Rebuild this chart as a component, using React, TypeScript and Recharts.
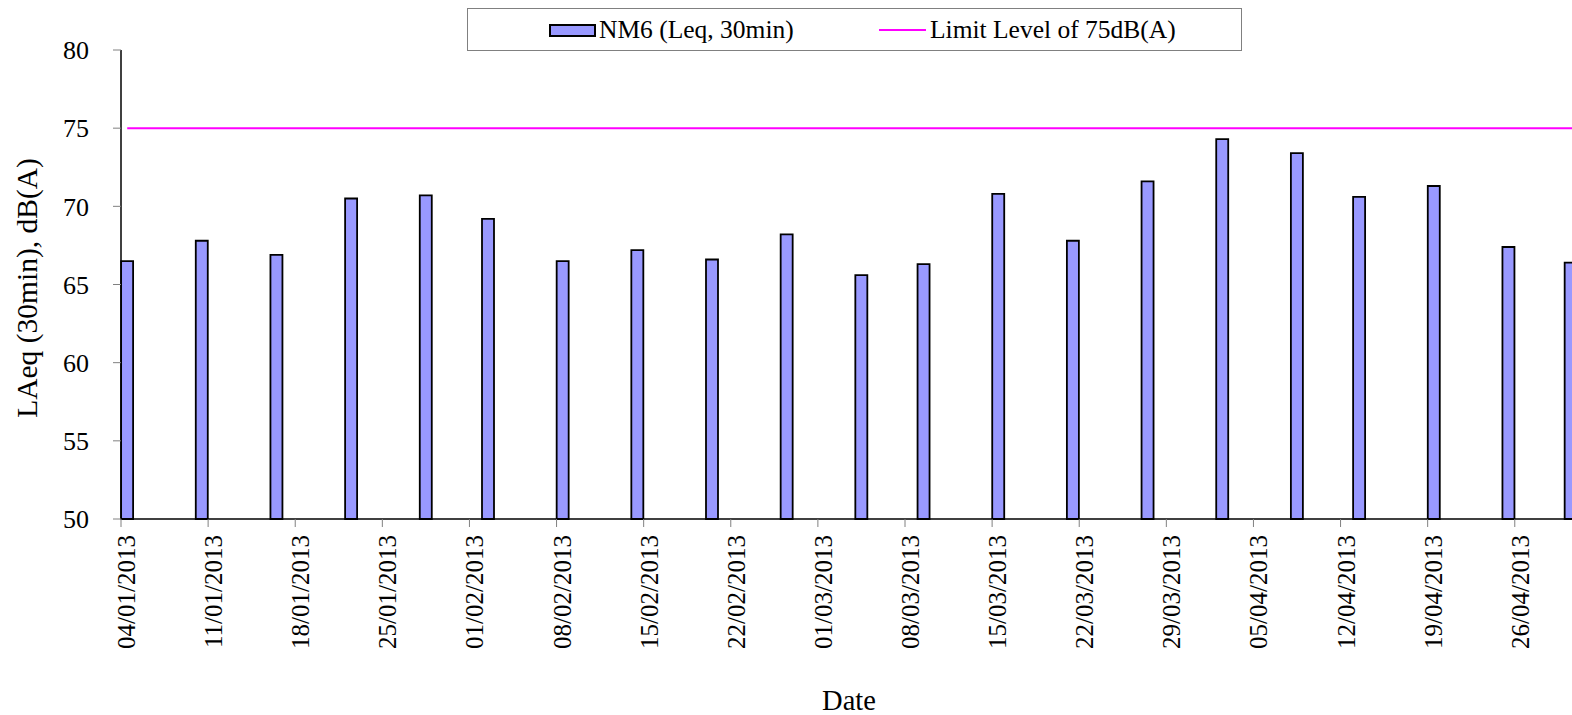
import { Bar, BarChart, Label, ReferenceLine, XAxis, YAxis } from "recharts";

// measurement dates (dd/mm/yyyy) and NM6 30-min Leq readings
const dates = [
  "04/01/2013", "10/01/2013", "16/01/2013", "22/01/2013", "28/01/2013", "02/02/2013",
  "08/02/2013", "14/02/2013", "20/02/2013", "26/02/2013", "04/03/2013", "09/03/2013",
  "15/03/2013", "21/03/2013", "27/03/2013", "02/04/2013", "08/04/2013", "13/04/2013",
  "19/04/2013", "25/04/2013", "30/04/2013",
];
const nm6 = [
  66.5, 67.8, 66.9, 70.5, 70.7, 69.2, 66.5, 67.2, 66.6, 68.2, 65.6, 66.3,
  70.8, 67.8, 71.6, 74.3, 73.4, 70.6, 71.3, 67.4, 66.4,
];
const tickLabels = [
  "04/01/2013", "11/01/2013", "18/01/2013", "25/01/2013", "01/02/2013", "08/02/2013",
  "15/02/2013", "22/02/2013", "01/03/2013", "08/03/2013", "15/03/2013", "22/03/2013",
  "29/03/2013", "05/04/2013", "12/04/2013", "19/04/2013", "26/04/2013",
];
const axisStart = "04/01/2013";
const axisEnd = "01/05/2013";
const yTicks = [50, 55, 60, 65, 70, 75, 80];
const limitLevel = 75;

const FONT = '"Liberation Serif", "DejaVu Serif", serif';

const toUtc = (s: string) => {
  const [d, m, y] = s.split("/").map(Number);
  return Date.UTC(y, m - 1, d);
};
const dayOf = (s: string) => Math.round((toUtc(s) - toUtc(axisStart)) / 86400000);

// bar covers the whole day, so centre it half a day after the date
const data = dates.map((d, i) => ({ day: dayOf(d) + 0.5, nm6: nm6[i] }));
const xTicks = tickLabels.map(dayOf);
const labelFor = (day: number) => tickLabels[xTicks.indexOf(day)] ?? "";

function XTick(props: any) {
  const { x, y, payload } = props;
  return (
    <g transform={`translate(${x},${y})`}>
      <text
        transform="rotate(-90)"
        x={-6}
        y={14}
        textAnchor="end"
        fontSize={25}
        fontFamily={FONT}
        fill="#000"
      >
        {labelFor(payload.value)}
      </text>
    </g>
  );
}

export default function App() {
  return (
    <div
      style={{
        position: "absolute",
        left: 0,
        top: 0,
        width: 1572,
        height: 715,
        overflow: "hidden",
        background: "#fff",
        fontFamily: FONT,
      }}
    >
      <BarChart
        width={1580}
        height={715}
        data={data}
        margin={{ top: 50, right: 3, bottom: 0, left: 0 }}
      >
        <XAxis
          dataKey="day"
          type="number"
          domain={[0, dayOf(axisEnd)]}
          ticks={xTicks}
          interval={0}
          height={196}
          tickSize={8}
          tick={<XTick />}
          tickLine={{ stroke: "#808080" }}
          axisLine={{ stroke: "#000", strokeWidth: 1.5 }}
        >
          <Label
            content={(p: any) => (
              <text
                x={p.viewBox.x + p.viewBox.width / 2}
                y={710}
                textAnchor="middle"
                fontSize={28.5}
                fontFamily={FONT}
                fill="#000"
              >
                Date
              </text>
            )}
          />
        </XAxis>
        <YAxis
          domain={[50, 80]}
          ticks={yTicks}
          interval={0}
          width={121}
          tickSize={8}
          tickMargin={24}
          tick={{ fontSize: 26, fontFamily: FONT, fill: "#000" }}
          tickLine={{ stroke: "#808080" }}
          axisLine={{ stroke: "#000", strokeWidth: 1.5 }}
        >
          <Label
            content={() => (
              <text
                x={37}
                y={288}
                transform="rotate(-90 37 288)"
                textAnchor="middle"
                fontSize={29.5}
                fontFamily={FONT}
                fill="#000"
              >
                LAeq (30min), dB(A)
              </text>
            )}
          />
        </YAxis>
        <Bar
          dataKey="nm6"
          barSize={12}
          fill="#9999ff"
          stroke="#000"
          strokeWidth={1.8}
          isAnimationActive={false}
        />
        {/* limit series runs from the first measurement to the end of the axis */}
        <ReferenceLine
          segment={[
            { x: data[0].day, y: limitLevel },
            { x: dayOf(axisEnd), y: limitLevel },
          ]}
          stroke="#ff00ff"
          strokeWidth={2}
        />
      </BarChart>

      <div
        style={{
          position: "absolute",
          left: 467,
          top: 8,
          width: 775,
          height: 43,
          boxSizing: "border-box",
          border: "1px solid #808080",
          background: "#fff",
          fontSize: 25.5,
          lineHeight: "41px",
        }}
      >
        <div
          style={{
            position: "absolute",
            left: 81,
            top: 15,
            width: 47,
            height: 13,
            boxSizing: "border-box",
            background: "#9999ff",
            border: "2px solid #000",
          }}
        />
        <span style={{ position: "absolute", left: 131, top: 0, whiteSpace: "nowrap" }}>
          NM6 (Leq, 30min)
        </span>
        <div
          style={{
            position: "absolute",
            left: 411,
            top: 20,
            width: 47,
            height: 2,
            background: "#ff00ff",
          }}
        />
        <span style={{ position: "absolute", left: 462, top: 0, whiteSpace: "nowrap" }}>
          Limit Level of 75dB(A)
        </span>
      </div>
    </div>
  );
}
